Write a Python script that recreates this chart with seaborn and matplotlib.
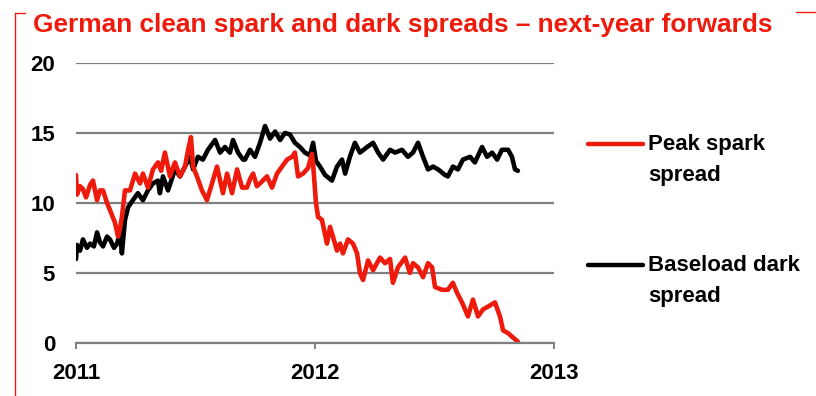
import matplotlib
matplotlib.use("Agg")
import matplotlib.pyplot as plt
from matplotlib.lines import Line2D
import pandas as pd
import seaborn as sns

# Next-year forward spreads (EUR/MWh), time in decimal years
peak_t = [0.000, 0.004, 0.017, 0.029, 0.042, 0.059, 0.071, 0.088, 0.100, 0.113,
          0.130, 0.142, 0.163, 0.176, 0.184, 0.192, 0.205, 0.226, 0.247, 0.268,
          0.280, 0.301, 0.322, 0.343, 0.356, 0.372, 0.393, 0.414, 0.435, 0.456,
          0.469, 0.481, 0.490, 0.506, 0.527, 0.548, 0.569, 0.590, 0.603, 0.615,
          0.632, 0.653, 0.674, 0.695, 0.715, 0.728, 0.741, 0.757, 0.770, 0.799,
          0.820, 0.841, 0.862, 0.883, 0.904, 0.916, 0.929, 0.950, 0.971, 0.987,
          0.992, 1.004, 1.013, 1.029, 1.050, 1.063, 1.075, 1.092, 1.105, 1.117,
          1.138, 1.159, 1.176, 1.188, 1.201, 1.222, 1.243, 1.272, 1.293, 1.314,
          1.326, 1.347, 1.377, 1.397, 1.410, 1.431, 1.452, 1.473, 1.490, 1.502,
          1.531, 1.556, 1.577, 1.594, 1.615, 1.640, 1.661, 1.682, 1.703, 1.724,
          1.753, 1.774, 1.787, 1.808, 1.828, 1.849]
peak_v = [12.0, 10.6, 11.2, 11.0, 10.4, 11.3, 11.6, 10.2, 10.9, 10.9,
          10.0, 9.5, 8.6, 7.6, 8.2, 9.0, 10.9, 10.9, 12.1, 11.4,
          12.1, 11.1, 12.4, 12.9, 12.3, 13.6, 11.9, 12.9, 11.9, 12.6,
          13.8, 14.7, 12.6, 11.9, 10.9, 10.2, 11.4, 12.6, 11.6, 10.7,
          12.1, 10.7, 12.4, 11.1, 11.1, 11.7, 12.1, 11.2, 11.4, 11.9,
          11.1, 12.1, 12.6, 13.1, 13.3, 13.6, 11.9, 12.1, 12.5, 13.5,
          12.8, 10.0, 9.0, 8.8, 7.1, 8.3, 7.6, 6.6, 7.1, 6.4,
          7.4, 7.1, 6.4, 5.0, 4.5, 5.9, 5.2, 6.1, 5.7, 6.0,
          4.3, 5.4, 6.1, 5.0, 5.7, 5.4, 4.7, 5.7, 5.4, 4.0,
          3.8, 3.8, 4.3, 3.6, 2.9, 1.9, 3.1, 1.9, 2.4, 2.6,
          2.9, 1.9, 0.9, 0.7, 0.4, 0.1]

dark_t = [0.000, 0.004, 0.017, 0.029, 0.046, 0.059, 0.075, 0.088, 0.100, 0.113,
          0.130, 0.142, 0.159, 0.172, 0.184, 0.192, 0.205, 0.218, 0.238, 0.259,
          0.280, 0.301, 0.322, 0.343, 0.351, 0.364, 0.385, 0.414, 0.435, 0.456,
          0.477, 0.490, 0.510, 0.531, 0.552, 0.582, 0.603, 0.623, 0.644, 0.657,
          0.678, 0.699, 0.707, 0.728, 0.749, 0.770, 0.791, 0.812, 0.833, 0.854,
          0.874, 0.895, 0.916, 0.937, 0.958, 0.979, 0.992, 1.004, 1.021, 1.042,
          1.071, 1.092, 1.113, 1.126, 1.146, 1.167, 1.188, 1.218, 1.243, 1.264,
          1.285, 1.314, 1.335, 1.364, 1.389, 1.410, 1.431, 1.452, 1.473, 1.494,
          1.515, 1.544, 1.556, 1.577, 1.598, 1.619, 1.649, 1.669, 1.699, 1.720,
          1.741, 1.762, 1.782, 1.808, 1.824, 1.837, 1.849]
dark_v = [6.0, 7.0, 6.6, 7.4, 6.8, 7.1, 6.9, 7.9, 7.2, 6.9,
          7.6, 7.4, 6.8, 7.1, 7.9, 6.4, 8.8, 9.7, 10.2, 10.7,
          10.2, 10.9, 11.4, 11.6, 10.7, 11.9, 10.9, 12.4, 11.9, 12.6,
          13.3, 12.4, 13.3, 13.1, 13.8, 14.5, 13.6, 14.0, 13.6, 14.5,
          13.6, 13.1, 13.1, 13.8, 13.3, 14.3, 15.5, 14.6, 15.1, 14.5,
          15.0, 14.9, 14.3, 14.0, 13.6, 13.4, 14.3, 13.0, 12.6, 12.0,
          11.6, 12.6, 13.1, 12.1, 13.3, 14.3, 13.6, 14.0, 14.3, 13.6,
          13.1, 13.8, 13.6, 13.8, 13.3, 13.6, 14.3, 13.3, 12.4, 12.6,
          12.4, 12.0, 11.9, 12.6, 12.4, 13.1, 13.3, 12.9, 14.0, 13.3,
          13.6, 13.1, 13.8, 13.8, 13.3, 12.4, 12.3]

series_names = ["Peak spark\nspread", "Baseload dark\nspread"]
year_ticks = [2011, 2012, 2013]
y_ticks = [0, 5, 10, 15, 20]
title = "German clean spark and dark spreads \u2013 next-year forwards"

RED = "#EE1A0C"
GREY = "#808080"

df = pd.concat([
    pd.DataFrame({"year": [2011 + t for t in peak_t], "value": peak_v,
                  "series": series_names[0]}),
    pd.DataFrame({"year": [2011 + t for t in dark_t], "value": dark_v,
                  "series": series_names[1]}),
], ignore_index=True)

sns.set_theme(style="white")
plt.rcParams["font.family"] = ["Liberation Sans", "DejaVu Sans"]
plt.rcParams["font.weight"] = "bold"

W, H = 816, 396
fig = plt.figure(figsize=(W / 100, H / 100), dpi=100)
ax = fig.add_axes([76 / W, 1 - 343 / H, (554 - 76) / W, (343 - 63) / H])

sns.lineplot(data=df, x="year", y="value", hue="series",
             palette={series_names[0]: RED, series_names[1]: "black"},
             hue_order=series_names[::-1], linewidth=3.3, legend=False,
             estimator=None, sort=False, ax=ax)

ax.set_xlim(2011, 2013)
ax.set_ylim(0, 20)
ax.set_xlabel("")
ax.set_ylabel("")
ax.set_yticks(y_ticks)
ax.set_yticklabels([str(v) for v in y_ticks])
ax.set_xticks(year_ticks)
ax.set_xticklabels([str(v) for v in year_ticks])

ax.yaxis.grid(True, color=GREY, linewidth=1.6)
ax.xaxis.grid(False)
ax.set_axisbelow(True)
for side in ("left", "right", "top"):
    ax.spines[side].set_visible(False)
ax.spines["bottom"].set_color(GREY)
ax.spines["bottom"].set_linewidth(1.6)

ax.tick_params(axis="y", length=0, pad=15, labelsize=16, labelcolor="black")
ax.tick_params(axis="x", length=4.5, width=1.4, color=GREY, pad=10,
               labelsize=16, labelcolor="black", bottom=True)
for lab in ax.get_xticklabels() + ax.get_yticklabels():
    lab.set_fontweight("bold")

# Title and red frame
fig.text(33 / W, 1 - 32 / H, title, color=RED, fontsize=18.9, fontweight="bold",
         ha="left", va="baseline")
fig.add_artist(Line2D([15 / W, 15 / W], [0, 1 - 13 / H], color=RED, lw=1.0))
fig.add_artist(Line2D([15 / W, 25 / W], [1 - 13 / H, 1 - 13 / H], color=RED, lw=1.0))
fig.add_artist(Line2D([796 / W, 1.0], [1 - 12 / H, 1 - 12 / H], color=RED, lw=1.0))

# Legend entries
legend_items = [(series_names[0], RED, 144), (series_names[1], "black", 265)]
for label, colour, ypx in legend_items:
    fig.add_artist(Line2D([588 / W, 643 / W], [1 - ypx / H, 1 - ypx / H],
                          color=colour, lw=3.2))
    fig.text(648 / W, 1 - (ypx - 10) / H, label, fontsize=16, fontweight="bold",
             color="black", ha="left", va="top", linespacing=1.6)

fig.savefig("out.png", dpi=100)
